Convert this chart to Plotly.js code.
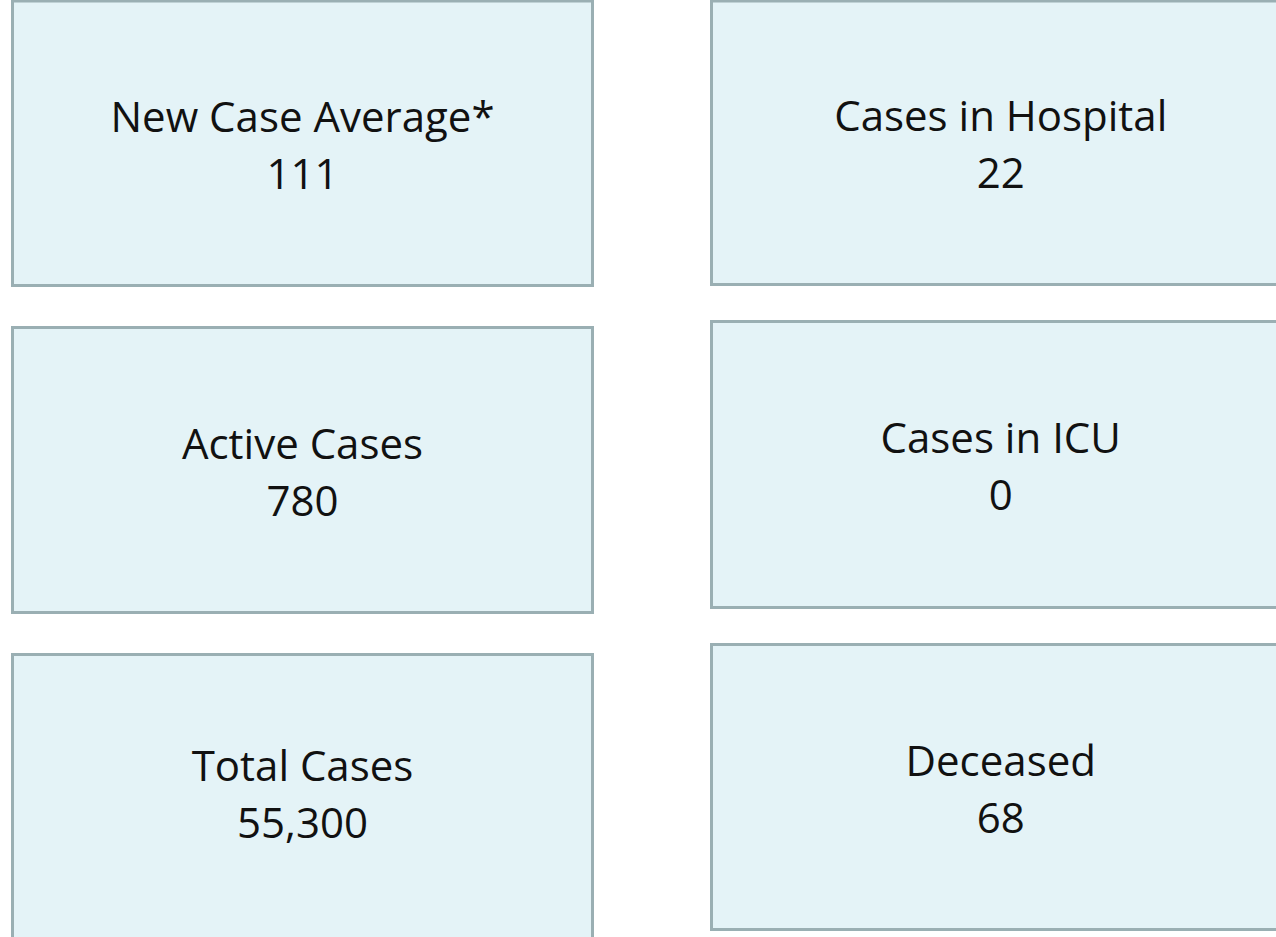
<!DOCTYPE html>
<html>
<head>
<meta charset="utf-8">
<script src="https://cdn.plot.ly/plotly-3.0.1.min.js"></script>
<style>html,body{margin:0;padding:0;background:#fff;}#chart{width:1276px;height:937px;}</style>
</head>
<body>
<div id="chart"></div>
<script>
const labels = ["New Case Average*", "Active Cases", "Total Cases", "Cases in Hospital", "Cases in ICU", "Deceased"];
const values = [111, 780, 55300, 22, 0, 68];

// layout of the cards (pixel space)
const boxes = [
  [12.5, 592.5, 1, 285.5],
  [12.5, 592.5, 327.5, 612.5],
  [12.5, 592.5, 654.5, 945],
  [711.5, 1290, 1, 284.5],
  [711.5, 1290, 321.5, 607.5],
  [711.5, 1290, 644.5, 929.5]
];

const fmt = v => v.toLocaleString('en-US');
const cx = boxes.map(b => (b[0] + b[1]) / 2);
const cy = boxes.map(b => (b[2] + Math.min(b[3], 930)) / 2);

const shapes = boxes.map(b => ({
  type: 'rect', xref: 'x', yref: 'y',
  x0: b[0], x1: b[1], y0: b[2], y1: b[3],
  line: {color: '#9aafb3', width: 3},
  fillcolor: '#e4f3f7', layer: 'below'
}));

const font = {family: 'Open Sans, Lato, sans-serif', size: 42, color: '#111111'};
const traces = [
  {type: 'scatter', mode: 'text', x: cx, y: cy.map(c => c - 22), text: labels,
   textposition: 'middle center', textfont: font, hoverinfo: 'skip', showlegend: false},
  {type: 'scatter', mode: 'text', x: cx, y: cy.map(c => c + 35), text: values.map(fmt),
   textposition: 'middle center', textfont: font, hoverinfo: 'skip', showlegend: false}
];

const layout = {
  width: 1276, height: 937,
  margin: {l: 0, r: 0, t: 0, b: 0},
  paper_bgcolor: '#ffffff', plot_bgcolor: '#ffffff',
  xaxis: {range: [0, 1276], visible: false, fixedrange: true},
  yaxis: {range: [937, 0], visible: false, fixedrange: true},
  shapes: shapes,
  showlegend: false
};

Plotly.newPlot('chart', traces, layout, {displayModeBar: false, staticPlot: true});
</script>
</body>
</html>
